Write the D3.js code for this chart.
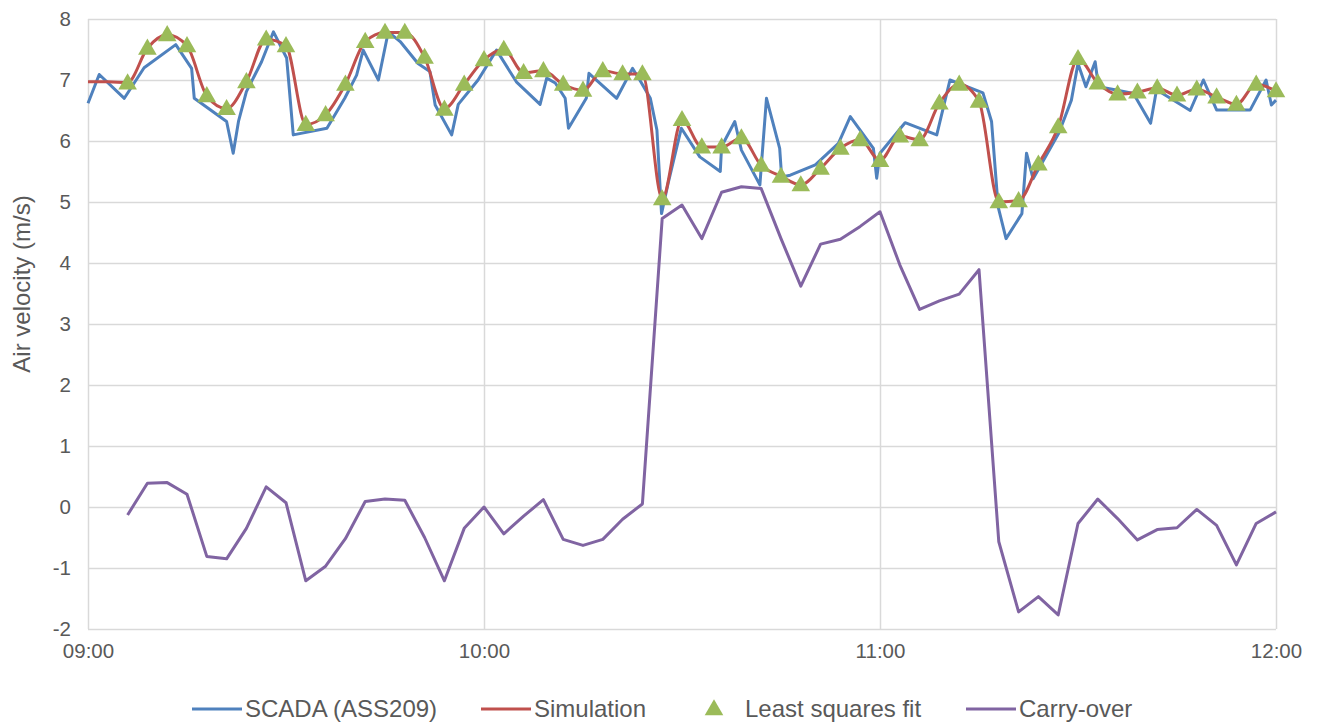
<!DOCTYPE html>
<html>
<head>
<meta charset="utf-8">
<script src="https://cdn.jsdelivr.net/npm/d3@7"></script>
<style>
  html, body { margin: 0; padding: 0; background: #ffffff; }
  svg { display: block; font-family: "Liberation Sans", Arial, sans-serif; }
</style>
</head>
<body>
<svg id="chart" width="1323" height="722"></svg>
<script>
// Minutes after 09:00 for every series.
const scadaMinutes = [0.0, 1.7, 5.5, 8.5, 13.3, 15.7, 16.1, 21.0, 22.0, 22.8, 24.0, 26.3, 28.1, 30.1, 31.1, 36.2,
  38.9, 40.7, 41.7, 44.0, 45.5, 47.3, 50.0, 51.8, 52.6, 55.1, 56.1, 59.1, 61.9, 64.9, 68.5, 69.5, 70.8,
  72.3, 72.8, 75.5, 75.9, 80.1, 82.5, 83.6, 85.2, 86.2, 86.9, 87.9, 89.9, 92.7, 95.8, 96.0, 98.0, 99.0,
  101.8, 102.8, 104.8, 105.1, 106.4, 110.2, 113.7, 115.5, 119.0, 119.5, 120.0, 123.8, 128.6, 130.6, 135.6,
  136.9, 137.9, 139.1, 141.5, 142.2, 143.2, 147.1, 149.0, 150.0, 151.2, 152.6, 153.1, 155.6, 158.4, 161.0,
  161.9, 167.0, 169.0, 171.0, 176.1, 178.5, 179.3, 180.0];
const scadaValues = [6.62, 7.09, 6.70, 7.20, 7.58, 7.19, 6.70, 6.32, 5.80, 6.32, 6.81, 7.30, 7.79, 7.36, 6.10, 6.21,
  6.70, 7.08, 7.49, 7.00, 7.79, 7.63, 7.27, 7.14, 6.59, 6.10, 6.60, 7.00, 7.49, 6.97, 6.60, 7.03, 6.95,
  6.70, 6.21, 6.70, 7.11, 6.70, 7.19, 7.00, 6.70, 6.18, 4.81, 5.31, 6.21, 5.74, 5.50, 5.91, 6.32, 5.85,
  5.28, 6.70, 5.88, 5.41, 5.44, 5.61, 5.96, 6.40, 5.88, 5.39, 5.80, 6.30, 6.10, 7.00, 6.79,
  6.32, 4.92, 4.40, 4.81, 5.80, 5.38, 6.13, 6.67, 7.27, 6.89, 7.30, 6.89, 6.84, 6.78, 6.29,
  6.84, 6.50, 7.00, 6.51, 6.51, 7.00, 6.59, 6.67];

// Simulation and carry-over are sampled every 3 minutes.
const simMinutes = d3.range(0, 181, 3);
const simValues = [6.97, 6.97, 6.96, 7.52, 7.74, 7.56, 6.74, 6.53, 6.97, 7.67, 7.56, 6.27, 6.43, 6.93, 7.63, 7.78,
  7.78, 7.37, 6.53, 6.93, 7.33, 7.50, 7.12, 7.15, 6.93, 6.83, 7.15, 7.10, 7.10, 5.05, 6.35, 5.90, 5.90, 6.05,
  5.60, 5.42, 5.28, 5.55, 5.88, 6.02, 5.68, 6.08, 6.02, 6.62, 6.93, 6.65, 5.00, 5.02, 5.62, 6.23, 7.35, 6.95,
  6.77, 6.80, 6.87, 6.75, 6.85, 6.72, 6.60, 6.93, 6.82];

const fitMinutes = d3.range(6, 181, 3);
const fitValues = [6.95, 7.52, 7.74, 7.56, 6.74, 6.53, 6.97, 7.67, 7.56, 6.27, 6.43, 6.93, 7.63, 7.78,
  7.78, 7.37, 6.52, 6.93, 7.33, 7.50, 7.12, 7.15, 6.93, 6.83, 7.15, 7.10, 7.10, 5.05, 6.35, 5.90, 5.90, 6.05,
  5.60, 5.42, 5.28, 5.55, 5.88, 6.02, 5.68, 6.08, 6.02, 6.62, 6.93, 6.65, 5.00, 5.02, 5.62, 6.23, 7.35, 6.95,
  6.77, 6.80, 6.87, 6.75, 6.85, 6.72, 6.60, 6.93, 6.82];

const carryMinutes = d3.range(6, 181, 3);
const carryValues = [-0.13, 0.39, 0.40, 0.21, -0.81, -0.85, -0.35, 0.33, 0.07, -1.21, -0.97, -0.52, 0.09, 0.13,
  0.11, -0.50, -1.21, -0.35, 0.00, -0.44, -0.15, 0.12, -0.53, -0.63, -0.53, -0.20, 0.05, 4.73, 4.95, 4.40,
  5.16, 5.25, 5.22, 4.40, 3.62, 4.31, 4.39, 4.60, 4.84, 3.97, 3.24, 3.38, 3.49, 3.89, -0.57, -1.72, -1.47,
  -1.77, -0.27, 0.13, -0.19, -0.54, -0.37, -0.34, -0.04, -0.30, -0.95, -0.27, -0.08];

const xTickMinutes = [0, 60, 120, 180];
const xTickLabels = ["09:00", "10:00", "11:00", "12:00"];
const yTicks = [-2, -1, 0, 1, 2, 3, 4, 5, 6, 7, 8];

const seriesNames = ["SCADA (ASS209)", "Simulation", "Least squares fit", "Carry-over"];
const colors = { scada: "#4F81BD", sim: "#C0504D", fit: "#9BBB59", carry: "#8064A2" };
const textColor = "#595959";
const gridColor = "#D9D9D9";

const plot = { left: 88, right: 1276, top: 19, bottom: 629 };
const svg = d3.select("#chart");

const x = d3.scaleLinear().domain([0, 180]).range([plot.left, plot.right]);
const y = d3.scaleLinear().domain([-2, 8]).range([plot.bottom, plot.top]);

// Horizontal gridlines
svg.append("g")
  .selectAll("line").data(yTicks).join("line")
  .attr("x1", plot.left).attr("x2", plot.right)
  .attr("y1", d => Math.round(y(d)) + 0.5).attr("y2", d => Math.round(y(d)) + 0.5)
  .attr("stroke", gridColor).attr("stroke-width", 1.5);

// Vertical gridlines
svg.append("g")
  .selectAll("line").data(xTickMinutes).join("line")
  .attr("x1", d => Math.round(x(d)) + 0.5).attr("x2", d => Math.round(x(d)) + 0.5)
  .attr("y1", plot.top).attr("y2", plot.bottom)
  .attr("stroke", gridColor).attr("stroke-width", 1.5);

// Axes (labels only; lines are the gridlines above)
const xAxis = d3.axisBottom(x).tickValues(xTickMinutes)
  .tickFormat((d, i) => xTickLabels[i]).tickSize(0).tickPadding(14);
svg.append("g").attr("transform", `translate(0,${plot.bottom})`).call(xAxis)
  .call(g => g.select(".domain").remove())
  .selectAll("text").attr("fill", textColor).style("font-size", "20.5px")
  .style("font-family", "'Liberation Sans', Arial, sans-serif");

// Plain hyphen for negative tick labels
const yAxis = d3.axisLeft(y).tickValues(yTicks).tickFormat(d => String(d))
  .tickSize(0).tickPadding(17);
svg.append("g").attr("transform", `translate(${plot.left},0)`).call(yAxis)
  .call(g => g.select(".domain").remove())
  .selectAll("text").attr("fill", textColor).style("font-size", "20.5px")
  .style("font-family", "'Liberation Sans', Arial, sans-serif");

// Y axis title
svg.append("text")
  .attr("transform", `translate(30,${(plot.top + plot.bottom) / 2 - 40}) rotate(-90)`)
  .attr("text-anchor", "middle")
  .attr("fill", textColor).style("font-size", "24px")
  .text("Air velocity (m/s)");

const line = d3.line().x(d => x(d[0])).y(d => y(d[1]));
const smooth = d3.line().x(d => x(d[0])).y(d => y(d[1])).curve(d3.curveMonotoneX);

const scada = d3.zip(scadaMinutes, scadaValues);
const sim = d3.zip(simMinutes, simValues);
const fit = d3.zip(fitMinutes, fitValues);
const carry = d3.zip(carryMinutes, carryValues);

svg.append("path").datum(carry).attr("d", line)
  .attr("fill", "none").attr("stroke", colors.carry).attr("stroke-width", 3)
  .attr("stroke-linejoin", "round");

svg.append("path").datum(scada).attr("d", line)
  .attr("fill", "none").attr("stroke", colors.scada).attr("stroke-width", 3)
  .attr("stroke-linejoin", "round");

svg.append("path").datum(sim).attr("d", smooth)
  .attr("fill", "none").attr("stroke", colors.sim).attr("stroke-width", 3)
  .attr("stroke-linejoin", "round");

const tri = d3.symbol().type(d3.symbolTriangle).size(150);
svg.append("g").selectAll("path").data(fit).join("path")
  .attr("d", tri)
  .attr("transform", d => `translate(${x(d[0])},${y(d[1]) + 1})`)
  .attr("fill", colors.fit);

// Legend
const legendY = 709;
const legend = svg.append("g").style("font-size", "24px");
const items = [
  { name: seriesNames[0], kind: "line", color: colors.scada, x0: 192 },
  { name: seriesNames[1], kind: "line", color: colors.sim, x0: 481 },
  { name: seriesNames[2], kind: "marker", color: colors.fit, x0: 708 },
  { name: seriesNames[3], kind: "line", color: colors.carry, x0: 966 }
];
items.forEach(it => {
  let tx;
  if (it.kind === "line") {
    legend.append("line")
      .attr("x1", it.x0).attr("x2", it.x0 + 50)
      .attr("y1", legendY).attr("y2", legendY)
      .attr("stroke", it.color).attr("stroke-width", 3);
    tx = it.x0 + 53;
  } else {
    legend.append("path").attr("d", tri)
      .attr("transform", `translate(${it.x0 + 6},${legendY + 1})`)
      .attr("fill", it.color);
    tx = it.x0 + 37;
  }
  legend.append("text").attr("x", tx).attr("y", legendY).attr("dy", "0.35em")
    .attr("fill", textColor).text(it.name);
});
</script>
</body>
</html>
